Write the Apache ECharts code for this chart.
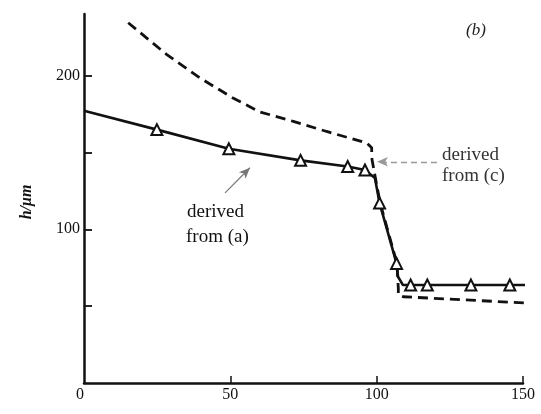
<!DOCTYPE html>
<html>
<head>
<meta charset="utf-8">
<script src="https://cdn.jsdelivr.net/npm/echarts@6/dist/echarts.min.js"></script>
<style>
  html, body { margin: 0; padding: 0; background: #fff; }
  #chart { width: 541px; height: 414px; }
</style>
</head>
<body>
<div id="chart"></div>
<script>
// values (b)
const solidLine = [
  [0, 177], [24.9, 164.8], [49.5, 152.3], [74, 144.8], [90.1, 140.8], [96, 138.5],
  [99.4, 133.3], [101, 117], [106.8, 77.8], [107.3, 69.1], [109, 63.7],
  [111.6, 63.7], [117.3, 63.7], [132.2, 63.7], [145.5, 63.7], [153.4, 63.7]
];
const triangles = [
  [24.9, 164.8], [49.5, 152.3], [74, 144.8], [90.1, 140.8], [96, 138.5],
  [101, 117], [106.8, 77.8], [111.6, 63.7], [117.3, 63.7], [132.2, 63.7], [145.5, 63.7]
];
const dashedLine = [
  [15.1, 234.3], [28.3, 213.6], [39.6, 198.4], [50.9, 185.4], [60.1, 176.3],
  [71.5, 170.2], [82.9, 163.6], [96.6, 156.1], [98.3, 153], [98.3, 146.5],
  [99.6, 133], [101.2, 117], [106.9, 78], [107.4, 61.5], [107.4, 57.2],
  [109.1, 56.1], [153.5, 51.8]
];
const arrowA = [[48.2, 123.7], [56.7, 140]];
const arrowC = [[120.6, 143.9], [100.1, 143.9]];
const xTicks = [50, 100, 150];
const xLabels = [0, 50, 100, 150];
const yTicks = [50, 100, 150, 200];
const yLabels = [100, 200];

const serif = '"Liberation Serif", "DejaVu Serif", serif';
const chart = echarts.init(document.getElementById('chart'), null, { renderer: 'canvas' });

chart.setOption({
  animation: false,
  backgroundColor: '#fff',
  grid: { left: 84, right: 18, top: 14, bottom: 31 },
  xAxis: {
    type: 'value', min: 0, max: 150,
    axisLine: { lineStyle: { color: '#111', width: 2.5 } },
    axisTick: { inside: true, length: 7, customValues: xTicks, lineStyle: { color: '#111', width: 1.5 } },
    axisLabel: { customValues: xLabels, alignMinLabel: 'right', margin: 4, color: '#111', fontFamily: serif, fontSize: 16 },
    splitLine: { show: false }
  },
  yAxis: {
    type: 'value', min: 0, max: 240,
    axisLine: { show: true, lineStyle: { color: '#111', width: 2.5 } },
    axisTick: { show: true, inside: true, length: 8, customValues: yTicks, lineStyle: { color: '#111', width: 1.8 } },
    axisLabel: { customValues: yLabels, margin: 4, color: '#111', fontFamily: serif, fontSize: 16 },
    splitLine: { show: false }
  },
  graphic: [
    { type: 'text', x: 27, y: 202, rotation: Math.PI / 2,
      style: { text: 'h/μm', font: 'bold italic 16px ' + serif, fill: '#111', align: 'center', verticalAlign: 'middle' } },
    { type: 'text', x: 476, y: 31,
      style: { text: '(b)', font: 'italic 17px ' + serif, fill: '#222', align: 'center', verticalAlign: 'middle' } },
    { type: 'text', x: 187, y: 212,
      style: { text: 'derived', font: '19px ' + serif, fill: '#111', verticalAlign: 'middle' } },
    { type: 'text', x: 186, y: 237,
      style: { text: 'from (a)', font: '19px ' + serif, fill: '#111', verticalAlign: 'middle' } },
    { type: 'text', x: 442, y: 155,
      style: { text: 'derived', font: '19px ' + serif, fill: '#333', verticalAlign: 'middle' } },
    { type: 'text', x: 442, y: 176,
      style: { text: 'from (c)', font: '19px ' + serif, fill: '#333', verticalAlign: 'middle' } }
  ],
  series: [
    {
      type: 'line', data: dashedLine, showSymbol: false, clip: false, z: 2,
      lineStyle: { color: '#111', width: 2.8, type: [10, 6] }
    },
    {
      type: 'line', data: solidLine, showSymbol: false, clip: false, z: 3,
      lineStyle: { color: '#111', width: 2.6 }
    },
    {
      type: 'scatter', data: triangles, symbol: 'triangle', symbolSize: 11, z: 4,
      itemStyle: { color: '#fff', opacity: 1, borderColor: '#111', borderWidth: 2 }
    },
    {
      type: 'line', data: [], z: 5,
      markLine: {
        silent: true, symbol: ['none', 'arrow'], symbolSize: [7, 11], label: { show: false },
        data: [
          [{ coord: arrowA[0], lineStyle: { color: '#777', width: 1.2, type: 'solid' } }, { coord: arrowA[1] }],
          [{ coord: arrowC[0], lineStyle: { color: '#999', width: 1.4, type: [6, 4] } }, { coord: arrowC[1] }]
        ]
      }
    }
  ]
});
</script>
</body>
</html>
